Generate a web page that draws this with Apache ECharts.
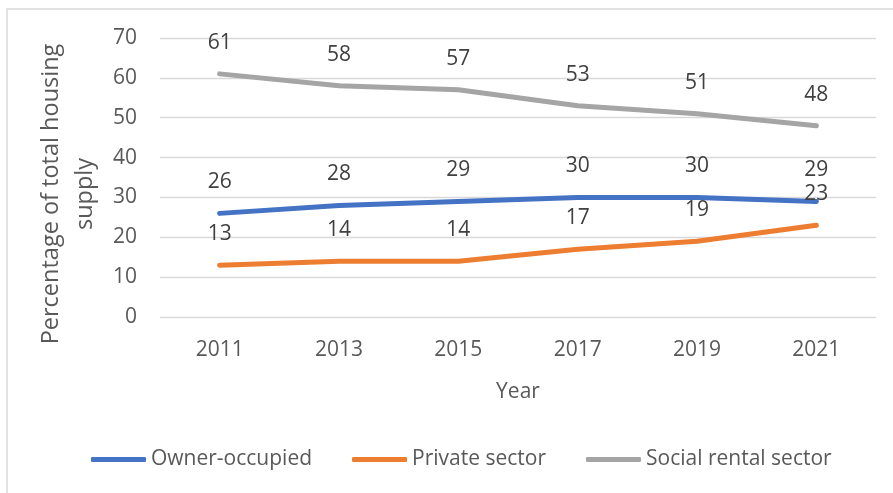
<!DOCTYPE html>
<html>
<head>
<meta charset="utf-8">
<title>Housing supply by tenure</title>
<script src="https://cdn.jsdelivr.net/npm/echarts@6/dist/echarts.min.js"></script>
<style>
  html, body { margin: 0; padding: 0; background: #ffffff; }
  #chart { width: 893px; height: 493px; }
</style>
</head>
<body>
<div id="chart"></div>
<script>
// Survey years on the horizontal axis
const years = ['2011', '2013', '2015', '2017', '2019', '2021'];

// Share of total housing supply (%) by tenure
const ownerOccupied = [26, 28, 29, 30, 30, 29];
const privateSector = [13, 14, 14, 17, 19, 23];
const socialRental = [61, 58, 57, 53, 51, 48];

const seriesNames = ['Owner-occupied', 'Private sector', 'Social rental sector'];
const seriesColors = ['#4472C4', '#ED7D31', '#A5A5A5'];

const FONT = '"Open Sans", "Liberation Sans", sans-serif';

function lineSeries(name, data, color) {
  return {
    name: name,
    type: 'line',
    data: data,
    symbol: 'circle',
    symbolSize: 4,
    showSymbol: true,
    itemStyle: { color: color },
    lineStyle: { color: color, width: 5, cap: 'round', join: 'round' },
    label: {
      show: true,
      position: 'top',
      distance: 18.5,
      color: '#404040',
      fontFamily: FONT,
      fontSize: 21,
      lineHeight: 21
    },
    emphasis: { disabled: true },
    animation: false
  };
}

const chart = echarts.init(document.getElementById('chart'), null, { renderer: 'canvas' });

chart.setOption({
  backgroundColor: '#ffffff',
  animation: false,
  textStyle: { fontFamily: FONT },
  graphic: [{
    type: 'rect',
    shape: { x: 7, y: 9, width: 900, height: 500 },
    style: { fill: 'none', stroke: '#D9D9D9', lineWidth: 1.5 },
    silent: true,
    z: -1
  }],
  grid: { left: 160, right: 17, top: 38, bottom: 176 },
  legend: {
    data: seriesNames,
    left: 86,
    top: 444,
    icon: 'roundRect',
    itemWidth: 55,
    itemHeight: 5,
    itemGap: 40,
    textStyle: { color: '#595959', fontFamily: FONT, fontSize: 21, lineHeight: 21 }
  },
  xAxis: {
    type: 'category',
    data: years,
    boundaryGap: true,
    name: 'Year',
    nameLocation: 'middle',
    nameGap: 65,
    nameTextStyle: { color: '#595959', fontFamily: FONT, fontSize: 21, lineHeight: 21 },
    axisLine: { show: false },
    axisTick: { show: false },
    axisLabel: { color: '#595959', fontFamily: FONT, fontSize: 21, lineHeight: 21, margin: 23 }
  },
  yAxis: {
    type: 'value',
    min: 0,
    max: 70,
    interval: 10,
    name: 'Percentage of total housing\nsupply',
    nameLocation: 'middle',
    nameGap: 50,
    nameTextStyle: {
      color: '#595959', fontFamily: FONT, fontSize: 23.5, lineHeight: 34,
      padding: [0, 33, 0, 0]
    },
    axisLine: { show: false },
    axisTick: { show: false },
    splitLine: { show: true, lineStyle: { color: '#D9D9D9', width: 1.4 } },
    axisLabel: { color: '#595959', fontFamily: FONT, fontSize: 21, margin: 23 }
  },
  series: [
    lineSeries(seriesNames[0], ownerOccupied, seriesColors[0]),
    lineSeries(seriesNames[1], privateSector, seriesColors[1]),
    lineSeries(seriesNames[2], socialRental, seriesColors[2])
  ]
});
</script>
</body>
</html>
